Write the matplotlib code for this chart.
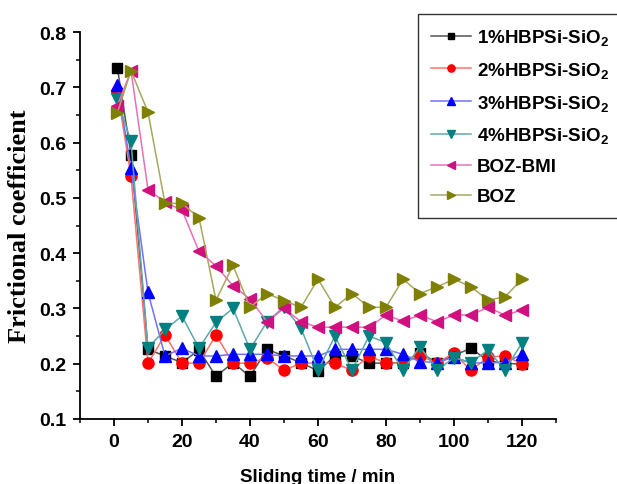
import matplotlib
matplotlib.use("Agg")
import matplotlib.pyplot as plt
from matplotlib.ticker import MultipleLocator

plt.rcParams["font.family"] = ["Liberation Sans", "DejaVu Sans"]
plt.rcParams["font.weight"] = "bold"
plt.rcParams["mathtext.fontset"] = "custom"
plt.rcParams["mathtext.rm"] = "Liberation Sans:bold"
plt.rcParams["mathtext.it"] = "Liberation Sans:bold"
plt.rcParams["mathtext.bf"] = "Liberation Sans:bold"

time_min = [1, 5, 10, 15, 20, 25, 30, 35, 40, 45, 50, 55, 60,
            65, 70, 75, 80, 85, 90, 95, 100, 105, 110, 115, 120]

hbpsi_1 = [0.735, 0.578, 0.226, 0.214, 0.202, 0.225, 0.177, 0.202, 0.177, 0.226, 0.214, 0.202, 0.187,
           0.214, 0.214, 0.201, 0.201, 0.202, 0.220, 0.202, 0.215, 0.228, 0.205, 0.201, 0.199]
hbpsi_2 = [0.693, 0.539, 0.201, 0.252, 0.201, 0.201, 0.252, 0.201, 0.201, 0.211, 0.188, 0.201, 0.201,
           0.201, 0.188, 0.214, 0.201, 0.201, 0.214, 0.202, 0.219, 0.188, 0.212, 0.214, 0.200]
hbpsi_3 = [0.705, 0.554, 0.329, 0.214, 0.228, 0.214, 0.214, 0.217, 0.217, 0.217, 0.214, 0.214, 0.214,
           0.226, 0.226, 0.226, 0.226, 0.217, 0.204, 0.202, 0.212, 0.201, 0.202, 0.202, 0.217]
hbpsi_4 = [0.678, 0.602, 0.228, 0.262, 0.286, 0.228, 0.275, 0.300, 0.226, 0.276, 0.303, 0.264, 0.188,
           0.250, 0.188, 0.250, 0.238, 0.188, 0.231, 0.188, 0.211, 0.202, 0.225, 0.188, 0.238]
boz_bmi = [0.667, 0.730, 0.515, 0.492, 0.478, 0.403, 0.377, 0.341, 0.317, 0.276, 0.300, 0.276, 0.266,
           0.266, 0.266, 0.266, 0.288, 0.277, 0.288, 0.276, 0.288, 0.288, 0.302, 0.288, 0.297]
boz = [0.654, 0.730, 0.655, 0.490, 0.490, 0.464, 0.315, 0.378, 0.302, 0.327, 0.314, 0.302, 0.353,
       0.302, 0.327, 0.302, 0.302, 0.353, 0.327, 0.339, 0.353, 0.339, 0.315, 0.321, 0.353]

labels = ["1%HBPSi-SiO$_2$", "2%HBPSi-SiO$_2$", "3%HBPSi-SiO$_2$",
          "4%HBPSi-SiO$_2$", "BOZ-BMI", "BOZ"]
series = [hbpsi_1, hbpsi_2, hbpsi_3, hbpsi_4, boz_bmi, boz]
markers = ["s", "o", "^", "v", "<", ">"]
colors = ["#000000", "#ff0000", "#0000ff", "#008080", "#d0107f", "#808000"]
line_colors = ["#555555", "#ff7070", "#7070ff", "#60a8a8", "#e870b8", "#a8a860"]
sizes = [7, 8, 9, 9, 9, 9]

fig = plt.figure(figsize=(6.17, 4.85), dpi=100)
ax = fig.add_axes([80 / 617, 1 - 420 / 485, 476 / 617, 387 / 485])

for y, lab, m, c, lc, ms in zip(series, labels, markers, colors, line_colors, sizes):
    ax.plot(time_min, y, color=lc, lw=1.1, marker=m, ms=ms, mfc=c, mec=c, label=lab)

ax.set_xlim(-10, 130)
ax.set_ylim(0.1, 0.8)
ax.xaxis.set_major_locator(MultipleLocator(20))
ax.xaxis.set_minor_locator(MultipleLocator(10))
ax.yaxis.set_major_locator(MultipleLocator(0.1))
ax.yaxis.set_minor_locator(MultipleLocator(0.05))
ax.spines["top"].set_visible(False)
ax.spines["right"].set_visible(False)
for s in ("left", "bottom"):
    ax.spines[s].set_linewidth(1.3)
ax.tick_params(which="major", direction="out", length=5, width=1.3, labelsize=14, pad=5)
ax.tick_params(which="minor", direction="out", length=3, width=1.1)
for t in ax.get_xticklabels() + ax.get_yticklabels():
    t.set_fontweight("bold")

ax.set_xlabel("Sliding time / min", fontsize=13.5, fontweight="bold", labelpad=13)
ax.set_ylabel("Frictional coefficient", fontsize=19, fontweight="bold",
              family=["Liberation Serif", "DejaVu Serif"], labelpad=6)

leg = ax.legend(loc="upper left", bbox_to_anchor=(418 / 617, 1 - 15 / 485),
                bbox_transform=fig.transFigure, borderaxespad=0, fancybox=False,
                edgecolor="#333333", framealpha=1, fontsize=13.5, handlelength=2.1,
                handletextpad=0.35, borderpad=0.7, labelspacing=0.68, markerscale=0.65)
leg.get_frame().set_linewidth(1.0)

plt.savefig("out.png", dpi=100)
